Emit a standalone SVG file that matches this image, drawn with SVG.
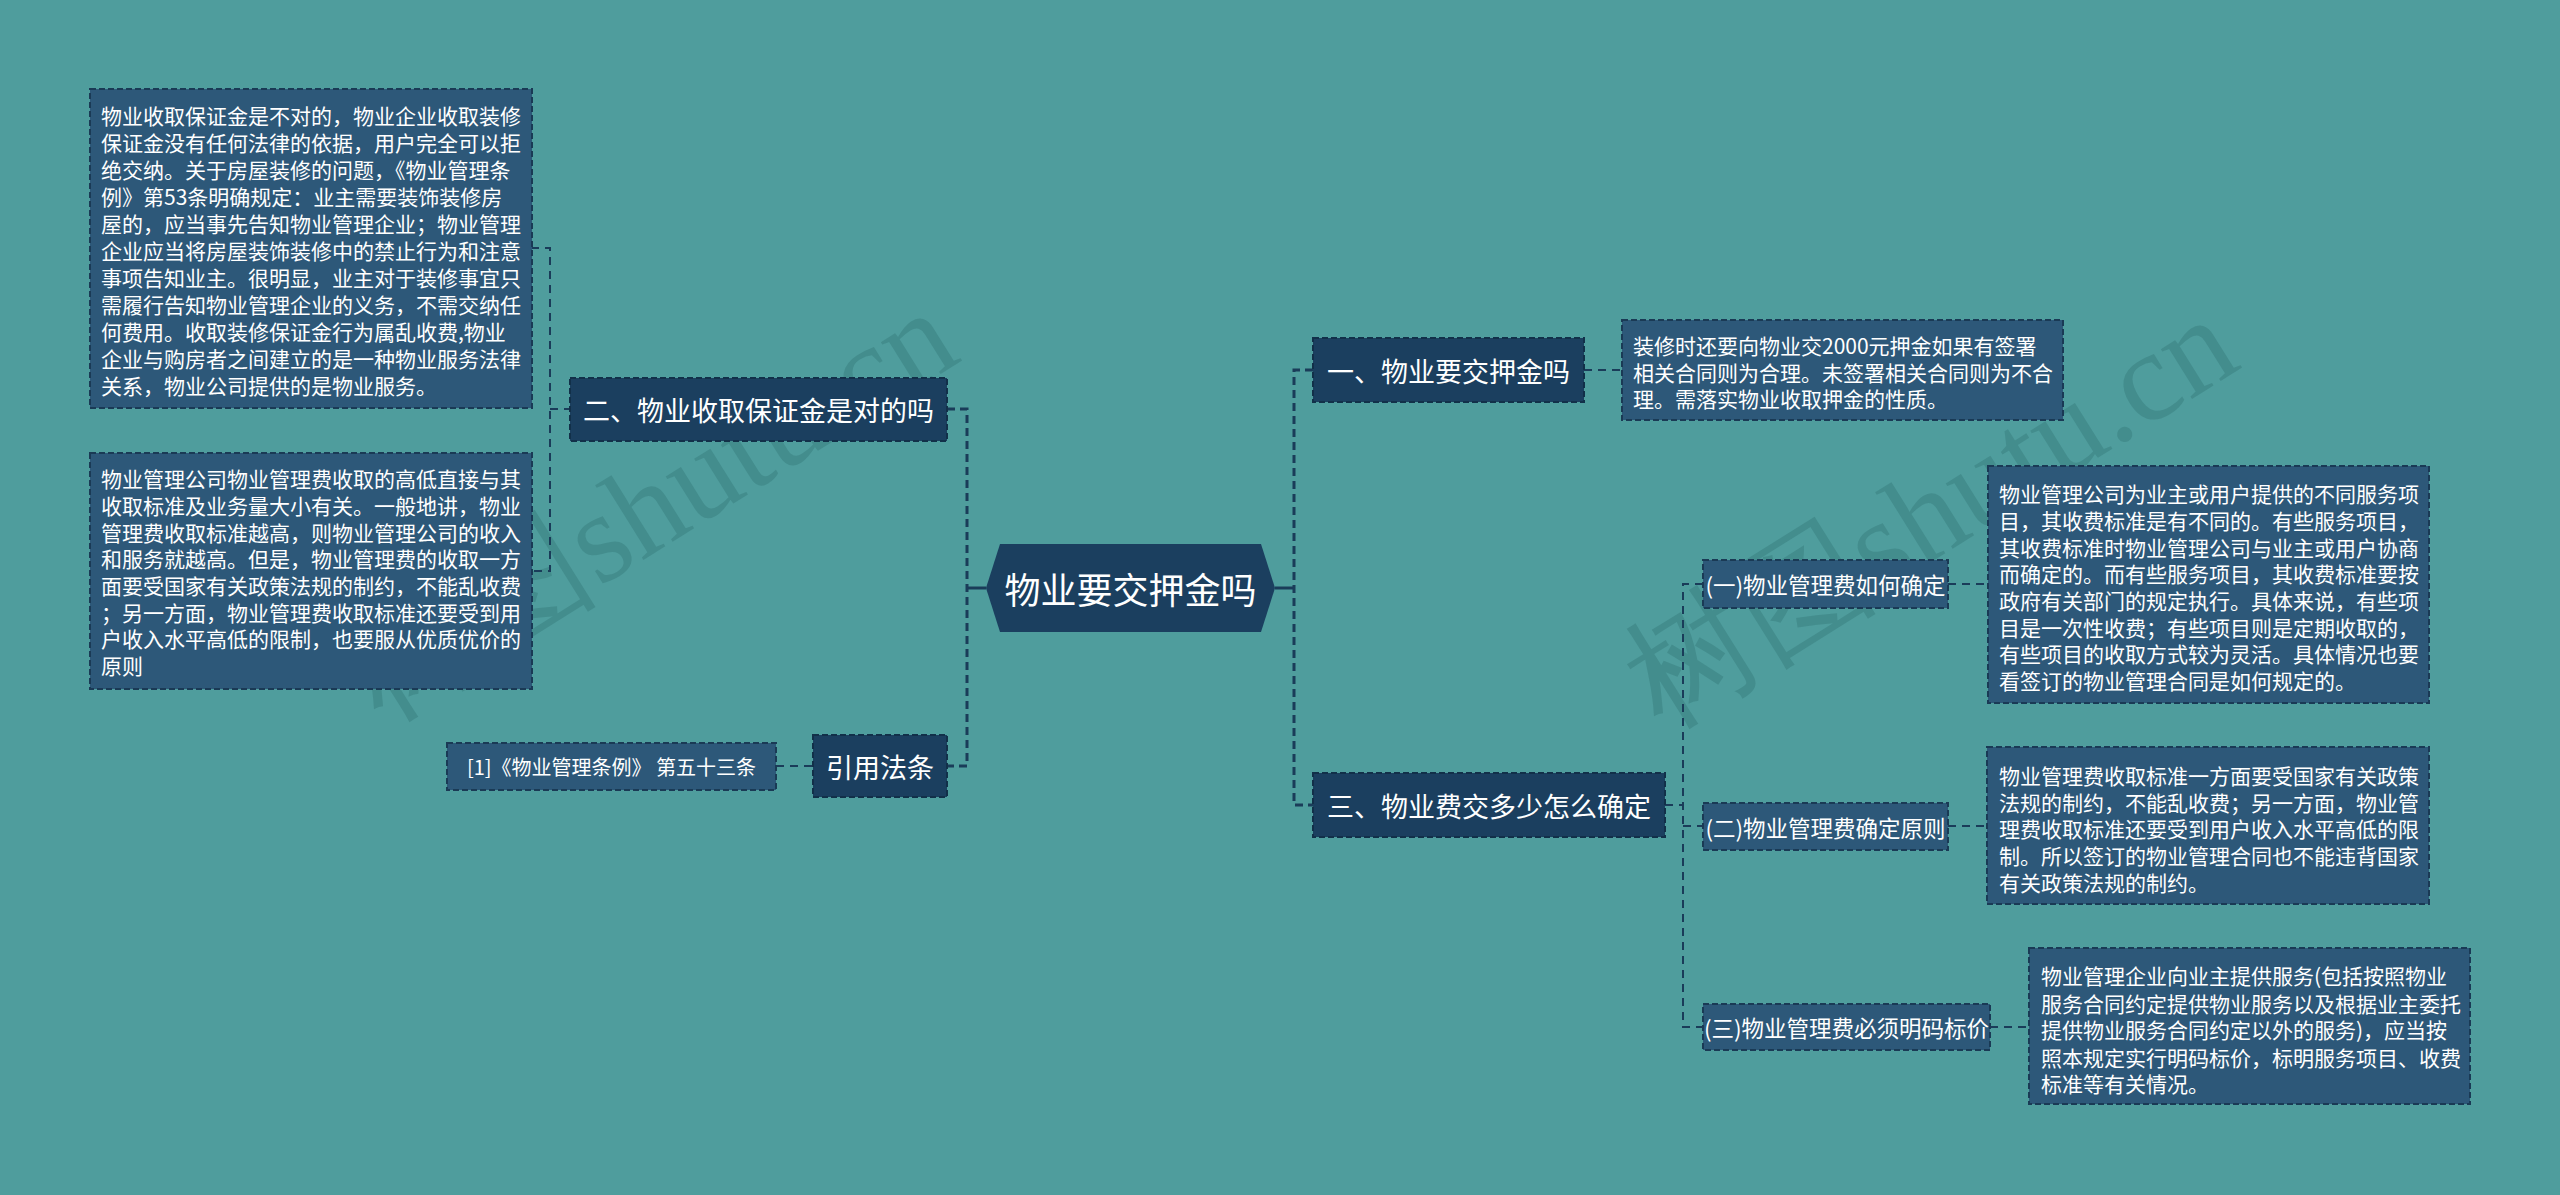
<svg xmlns="http://www.w3.org/2000/svg" width="2560" height="1195" viewBox="0 0 2560 1195">
<defs>
<style>
.bg{fill:#4f9d9d}
.main{fill:#1b3f5f;stroke:#123049;stroke-width:2;stroke-dasharray:6 3}
.leaf{fill:#2d5879;stroke:#1a3a55;stroke-width:2;stroke-dasharray:6 3}
.t{font-family:"Noto Sans CJK SC","Microsoft YaHei",sans-serif;fill:#ffffff;dominant-baseline:central}
.c{text-anchor:middle}
.f21{font-size:21px}
.f23{font-size:22.5px}
.f27{font-size:27px}
.f36{font-size:36px}
.trunk{fill:none;stroke:#1a3c59;stroke-width:3;stroke-dasharray:8 5}
.sub{fill:none;stroke:#1a3c59;stroke-width:2;stroke-dasharray:8 6}
.solid{fill:none;stroke:#1a3c59;stroke-width:3}
.wm{font-family:"Liberation Serif",serif;font-size:128px;fill:#2f6f70;fill-opacity:0.35}
</style>
</defs>
<rect class="bg" x="0" y="0" width="2560" height="1195"/>

<g id="watermarks">
<text class="wm" transform="translate(650,505) rotate(-32)" text-anchor="middle" dominant-baseline="central">树图shutu.cn</text>
<text class="wm" transform="translate(1930,512) rotate(-32)" text-anchor="middle" dominant-baseline="central">树图shutu.cn</text>
</g>

<g id="connectors">
<line class="solid" x1="967" y1="588" x2="986" y2="588"/>
<path class="trunk" d="M947 409 H967 V766 H947"/>
<path class="sub" d="M531 248 H550 V571 H531"/>
<line class="sub" x1="550" y1="409" x2="570" y2="409"/>
<line class="sub" x1="776" y1="766" x2="813" y2="766"/>
<line class="solid" x1="1275" y1="588" x2="1294" y2="588"/>
<path class="trunk" d="M1313 370 H1294 V805 H1313"/>
<line class="sub" x1="1584" y1="370" x2="1622" y2="370"/>
<line class="sub" x1="1665" y1="805" x2="1683" y2="805"/>
<path class="sub" d="M1703 584 H1683 V1027 H1703"/>
<line class="sub" x1="1683" y1="826" x2="1703" y2="826"/>
<line class="sub" x1="1948" y1="584" x2="1988" y2="584"/>
<line class="sub" x1="1948" y1="826" x2="1987" y2="826"/>
<line class="sub" x1="1990" y1="1027" x2="2029" y2="1027"/>
</g>

<g id="root">
<polygon fill="#1b3f5f" points="986,588 1000,544 1261,544 1275,588 1261,632 1000,632"/>
<text class="t c f36" x="1130.5" y="588">物业要交押金吗</text>
</g>

<g id="n2">
<rect class="main" x="570" y="378" width="377" height="63"/>
<text class="t c f27" x="758.5" y="409.5">二、物业收取保证金是对的吗</text>
</g>

<g id="n2a">
<rect class="leaf" x="90" y="89" width="442" height="319"/>
<text class="t f21" x="101">
<tspan x="101" y="115">物业收取保证金是不对的，物业企业收取装修</tspan>
<tspan x="101" y="142">保证金没有任何法律的依据，用户完全可以拒</tspan>
<tspan x="101" y="169">绝交纳。关于房屋装修的问题，《物业管理条</tspan>
<tspan x="101" y="196">例》第53条明确规定：业主需要装饰装修房</tspan>
<tspan x="101" y="223">屋的，应当事先告知物业管理企业；物业管理</tspan>
<tspan x="101" y="250">企业应当将房屋装饰装修中的禁止行为和注意</tspan>
<tspan x="101" y="277">事项告知业主。很明显，业主对于装修事宜只</tspan>
<tspan x="101" y="304">需履行告知物业管理企业的义务，不需交纳任</tspan>
<tspan x="101" y="331">何费用。收取装修保证金行为属乱收费,物业</tspan>
<tspan x="101" y="358">企业与购房者之间建立的是一种物业服务法律</tspan>
<tspan x="101" y="385">关系，物业公司提供的是物业服务。</tspan>
</text>
</g>

<g id="n2b">
<rect class="leaf" x="90" y="453" width="442" height="236"/>
<text class="t f21" x="101">
<tspan x="101" y="478">物业管理公司物业管理费收取的高低直接与其</tspan>
<tspan x="101" y="505">收取标准及业务量大小有关。一般地讲，物业</tspan>
<tspan x="101" y="532">管理费收取标准越高，则物业管理公司的收入</tspan>
<tspan x="101" y="558">和服务就越高。但是，物业管理费的收取一方</tspan>
<tspan x="101" y="585">面要受国家有关政策法规的制约，不能乱收费</tspan>
<tspan x="101" y="612">；另一方面，物业管理费收取标准还要受到用</tspan>
<tspan x="101" y="638">户收入水平高低的限制，也要服从优质优价的</tspan>
<tspan x="101" y="665">原则</tspan>
</text>
</g>

<g id="nref">
<rect class="main" x="813" y="735" width="134" height="62"/>
<text class="t c f27" x="880" y="766">引用法条</text>
</g>

<g id="nrefa">
<rect class="leaf" x="447" y="743" width="329" height="47"/>
<text class="t c" style="font-size:20px" x="611.5" y="766.5">[1]《物业管理条例》 第五十三条</text>
</g>

<g id="n1">
<rect class="main" x="1313" y="338" width="271" height="64"/>
<text class="t c f27" x="1448.5" y="370">一、物业要交押金吗</text>
</g>

<g id="n1a">
<rect class="leaf" x="1622" y="320" width="441" height="100"/>
<text class="t f21">
<tspan x="1633" y="345">装修时还要向物业交2000元押金如果有签署</tspan>
<tspan x="1633" y="372">相关合同则为合理。未签署相关合同则为不合</tspan>
<tspan x="1633" y="398">理。需落实物业收取押金的性质。</tspan>
</text>
</g>

<g id="n3">
<rect class="main" x="1313" y="773" width="352" height="64"/>
<text class="t c f27" x="1489" y="805">三、物业费交多少怎么确定</text>
</g>

<g id="n31">
<rect class="leaf" x="1703" y="560" width="245" height="48"/>
<text class="t c f23" x="1825.5" y="584">(一)物业管理费如何确定</text>
</g>

<g id="n31a">
<rect class="leaf" x="1988" y="466" width="441" height="237"/>
<text class="t f21">
<tspan x="1999" y="493">物业管理公司为业主或用户提供的不同服务项</tspan>
<tspan x="1999" y="520">目，其收费标准是有不同的。有些服务项目，</tspan>
<tspan x="1999" y="547">其收费标准时物业管理公司与业主或用户协商</tspan>
<tspan x="1999" y="573">而确定的。而有些服务项目，其收费标准要按</tspan>
<tspan x="1999" y="600">政府有关部门的规定执行。具体来说，有些项</tspan>
<tspan x="1999" y="627">目是一次性收费；有些项目则是定期收取的，</tspan>
<tspan x="1999" y="653">有些项目的收取方式较为灵活。具体情况也要</tspan>
<tspan x="1999" y="680">看签订的物业管理合同是如何规定的。</tspan>
</text>
</g>

<g id="n32">
<rect class="leaf" x="1703" y="803" width="245" height="47"/>
<text class="t c f23" x="1825.5" y="826.5">(二)物业管理费确定原则</text>
</g>

<g id="n32a">
<rect class="leaf" x="1987" y="747" width="442" height="157"/>
<text class="t f21">
<tspan x="1999" y="775">物业管理费收取标准一方面要受国家有关政策</tspan>
<tspan x="1999" y="802">法规的制约，不能乱收费；另一方面，物业管</tspan>
<tspan x="1999" y="828">理费收取标准还要受到用户收入水平高低的限</tspan>
<tspan x="1999" y="855">制。所以签订的物业管理合同也不能违背国家</tspan>
<tspan x="1999" y="882">有关政策法规的制约。</tspan>
</text>
</g>

<g id="n33">
<rect class="leaf" x="1703" y="1004" width="287" height="46"/>
<text class="t c f23" x="1846.5" y="1027">(三)物业管理费必须明码标价</text>
</g>

<g id="n33a">
<rect class="leaf" x="2029" y="948" width="441" height="156"/>
<text class="t f21">
<tspan x="2041" y="975">物业管理企业向业主提供服务(包括按照物业</tspan>
<tspan x="2041" y="1003">服务合同约定提供物业服务以及根据业主委托</tspan>
<tspan x="2041" y="1029">提供物业服务合同约定以外的服务)，应当按</tspan>
<tspan x="2041" y="1057">照本规定实行明码标价，标明服务项目、收费</tspan>
<tspan x="2041" y="1083">标准等有关情况。</tspan>
</text>
</g>
</svg>
